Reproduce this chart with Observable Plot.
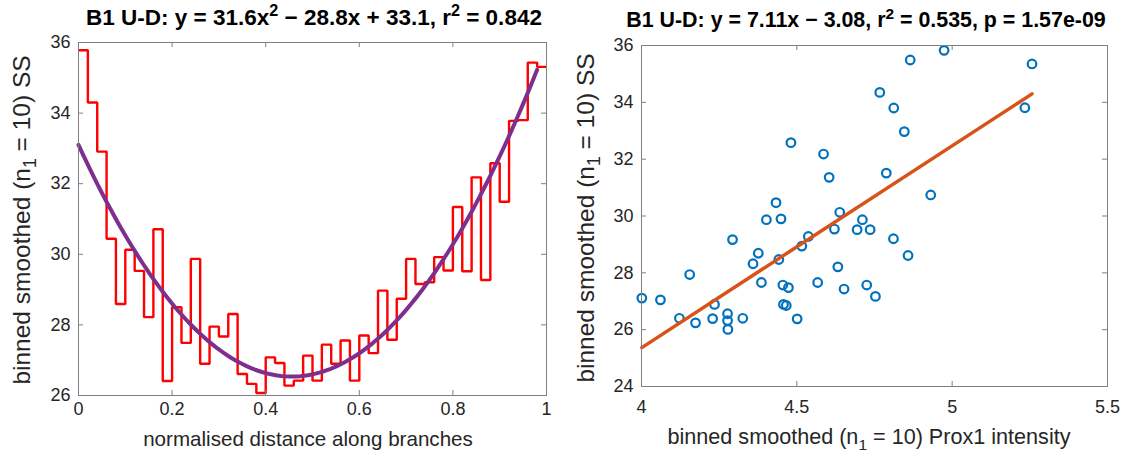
<!DOCTYPE html>
<html><head><meta charset="utf-8">
<script src="https://cdn.jsdelivr.net/npm/d3@7"></script>
<script src="https://cdn.jsdelivr.net/npm/@observablehq/plot@0.6"></script>
<style>
body{margin:0;background:#fff;font-family:"Liberation Sans",Arial,sans-serif;}
#wrap{position:relative;width:1129px;height:452px;overflow:hidden;background:#fff;}
.panel{position:absolute;top:0;}
.lbl{position:absolute;white-space:nowrap;color:#262626;transform:translate(-50%,-50%);line-height:1;}
.title{font-weight:bold;color:#000;}
.rot{transform:translate(-50%,-50%) rotate(-90deg);}
sub,sup{font-size:72%;line-height:0;}
</style></head><body><div id="wrap"></div>
<script>
// ---- data: left panel (binned SS along branches) ----
const binWidth = 0.02;
const binValues = [35.78, 34.30, 32.91, 30.44, 28.59, 30.13, 29.53, 28.22, 30.71, 26.41,
  28.50, 27.49, 29.87, 26.90, 27.95, 27.67, 28.31, 26.61, 26.33, 26.07,
  27.08, 26.92, 26.28, 26.42, 27.13, 26.42, 27.44, 26.90, 27.56, 26.42,
  27.70, 27.20, 28.97, 27.58, 28.74, 29.87, 29.16, 29.21, 29.92, 29.54,
  31.34, 29.52, 32.18, 29.27, 32.58, 31.49, 33.78, 33.80, 35.43, 35.31];
const quadCoef = [31.6, -28.8, 33.1];
const quadRange = [0, 0.98];
const leftXTicks = [0, 0.2, 0.4, 0.6, 0.8, 1];
const leftYTicks = [26, 28, 30, 32, 34, 36];

// ---- data: right panel (SS vs Prox1 intensity) ----
const prox1 = [4.001, 4.061, 4.122, 4.155, 4.174, 4.229, 4.235, 4.277, 4.277, 4.278,
  4.293, 4.326, 4.359, 4.376, 4.386, 4.402, 4.433, 4.442, 4.449, 4.455,
  4.473, 4.457, 4.466, 4.481, 4.501, 4.516, 4.537, 4.567, 4.586, 4.604,
  4.621, 4.632, 4.638, 4.652, 4.694, 4.711, 4.725, 4.736, 4.753, 4.767,
  4.788, 4.811, 4.812, 4.846, 4.858, 4.865, 4.931, 4.974, 5.234, 5.257];
const ssScatter = [27.11, 27.05, 26.40, 27.94, 26.24, 26.39, 26.89, 26.56, 26.32, 26.01,
  29.17, 26.40, 28.32, 28.69, 27.66, 29.87, 30.47, 28.47, 29.90, 27.57,
  27.48, 26.89, 26.85, 32.58, 26.38, 28.94, 29.28, 27.66, 32.18, 31.36,
  29.54, 28.21, 30.13, 27.43, 29.52, 29.87, 27.57, 29.52, 27.17, 34.35,
  31.51, 29.20, 33.80, 32.97, 28.61, 35.49, 30.74, 35.83, 33.81, 35.35];
const linCoef = [7.11, -3.08];
const rightXTicks = [4, 4.5, 5, 5.5];
const rightYTicks = [24, 26, 28, 30, 32, 34, 36];

const AX = "#808080", TXT = "#262626";
const style = {fontSize: "18px", fontFamily: '"Liberation Sans", Arial, sans-serif', color: TXT, background: "transparent"};
const wrap = document.getElementById("wrap");

function boxMarks(xt, yt, innerW, innerH) {
  return [
    Plot.tickY(yt, {y: d => d, insetRight: innerW - 5, stroke: AX, strokeWidth: 1}),
    Plot.tickY(yt, {y: d => d, insetLeft: innerW - 5, stroke: AX, strokeWidth: 1}),
    Plot.tickX(xt, {x: d => d, insetTop: innerH - 5, stroke: AX, strokeWidth: 1}),
    Plot.tickX(xt, {x: d => d, insetBottom: innerH - 5, stroke: AX, strokeWidth: 1}),
    Plot.frame({stroke: AX, strokeWidth: 1})
  ];
}

// ---- left panel ----
{
  const W = 560, H = 452, mL = 78, mR = 14, mT = 42, mB = 57;
  const stairs = binValues.map((v, i) => ({x: i * binWidth, y: v}));
  stairs.push({x: binValues.length * binWidth, y: binValues[binValues.length - 1]});
  const nS = 120;
  const fit = d3.range(nS + 1).map(k => {
    const x = quadRange[0] + (quadRange[1] - quadRange[0]) * k / nS;
    return {x, y: quadCoef[0] * x * x + quadCoef[1] * x + quadCoef[2]};
  });
  const p = Plot.plot({
    width: W, height: H, marginLeft: mL, marginRight: mR, marginTop: mT, marginBottom: mB,
    style,
    x: {domain: [0, 1]},
    y: {domain: [26, 36]},
    marks: [
      Plot.line(stairs, {x: "x", y: "y", curve: "step-after", stroke: "#ff0000", strokeWidth: 2.4, strokeLinejoin: "miter", strokeLinecap: "butt"}),
      Plot.line(fit, {x: "x", y: "y", stroke: "#7E2F8E", strokeWidth: 4}),
      ...boxMarks(leftXTicks, leftYTicks, W - mL - mR, H - mT - mB),
      Plot.axisX({ticks: leftXTicks, tickSize: 0, tickPadding: 7, label: null, tickFormat: d => String(d)}),
      Plot.axisY({ticks: leftYTicks, tickSize: 0, tickPadding: 8, label: null, tickFormat: d => String(d)})
    ]
  });
  p.classList.add("panel");
  p.style.left = "0px";
  wrap.appendChild(p);
}

// ---- right panel ----
{
  const L = 560, W = 569, H = 452, mL = 81, mR = 22, mT = 45, mB = 66;
  const pts = prox1.map((x, i) => ({x, y: ssScatter[i]}));
  const x0 = d3.min(prox1), x1 = d3.max(prox1);
  const fit = [x0, x1].map(x => ({x, y: linCoef[0] * x + linCoef[1]}));
  const p = Plot.plot({
    width: W, height: H, marginLeft: mL, marginRight: mR, marginTop: mT, marginBottom: mB,
    style,
    x: {domain: [4, 5.5]},
    y: {domain: [24, 36]},
    marks: [
      Plot.dot(pts, {x: "x", y: "y", r: 4.3, stroke: "#0072BD", strokeWidth: 2.2, fill: "none"}),
      Plot.line(fit, {x: "x", y: "y", stroke: "#D95319", strokeWidth: 3.5}),
      ...boxMarks(rightXTicks, rightYTicks, W - mL - mR, H - mT - mB),
      Plot.axisX({ticks: rightXTicks, tickSize: 0, tickPadding: 14, label: null, tickFormat: d => String(d)}),
      Plot.axisY({ticks: rightYTicks, tickSize: 0, tickPadding: 8, label: null, tickFormat: d => String(d)})
    ]
  });
  p.classList.add("panel");
  p.style.left = L + "px";
  wrap.appendChild(p);
}

// ---- titles and axis labels ----
const labels = [
  {cls: "title", size: 22.5, x: 314, y: 18, html: "B1 U-D: y = 31.6x<sup>2</sup> &minus; 28.8x + 33.1, r<sup>2</sup> = 0.842"},
  {cls: "title", size: 21.4, x: 866, y: 21, html: "B1 U-D: y = 7.11x &minus; 3.08, r<sup>2</sup> = 0.535, p = 1.57e-09"},
  {cls: "", size: 20.6, x: 308, y: 439, html: "normalised distance along branches"},
  {cls: "", size: 21.6, x: 869, y: 437, html: "binned smoothed (n<sub>1</sub> = 10) Prox1 intensity"},
  {cls: "rot", size: 24.5, x: 22, y: 220, html: "binned smoothed (n<sub>1</sub> = 10) SS"},
  {cls: "rot", size: 24.5, x: 586, y: 218, html: "binned smoothed (n<sub>1</sub> = 10) SS"}
];
for (const l of labels) {
  const d = document.createElement("div");
  d.className = "lbl " + l.cls;
  d.style.left = l.x + "px";
  d.style.top = l.y + "px";
  d.style.fontSize = l.size + "px";
  d.innerHTML = l.html;
  wrap.appendChild(d);
}
</script></body></html>
